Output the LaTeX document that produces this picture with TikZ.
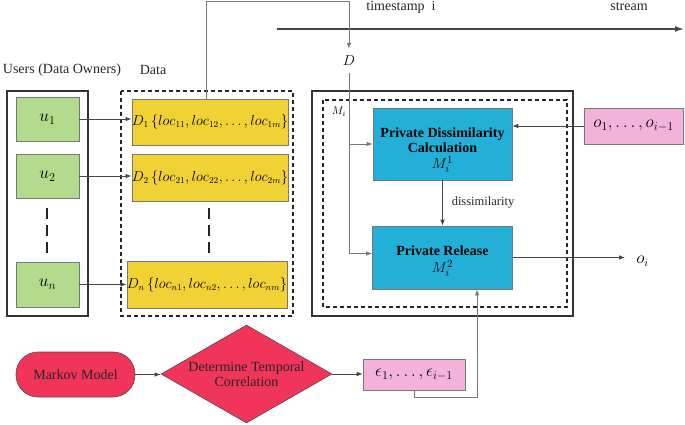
\documentclass[tikz,border=0pt]{standalone}
\usepackage{fontspec}
\setmainfont{Liberation Serif}
\usetikzlibrary{shapes.geometric,arrows.meta}
\definecolor{ugreen}{RGB}{178,220,140}
\definecolor{dyellow}{RGB}{240,210,52}
\definecolor{mblue}{RGB}{34,176,216}
\definecolor{opink}{RGB}{242,178,218}
\definecolor{mred}{RGB}{240,52,90}
\definecolor{lgray}{RGB}{120,120,120}
\definecolor{dgray}{RGB}{70,70,70}
\tikzset{
  ubox/.style={draw=lgray, fill=ugreen, line width=0.6pt, minimum width=63pt, minimum height=44pt, inner sep=0pt, font=\fontsize{17}{19}\selectfont},
  dbox/.style={draw=lgray, fill=dyellow, line width=0.6pt, minimum width=154pt, minimum height=46pt, inner sep=0pt, font=\fontsize{13.4}{15}\selectfont},
  mbox/.style={draw=lgray, fill=mblue, line width=0.6pt, inner sep=0pt, align=center, font=\fontsize{14}{15}\selectfont\bfseries},
  pbox/.style={draw=lgray, fill=opink, line width=0.6pt, inner sep=0pt, font=\fontsize{16.5}{18}\selectfont},
  lbl/.style={inner sep=0pt, font=\fontsize{14}{16}\selectfont, text=black!85},
  conn/.style={draw=dgray, line width=0.8pt, -{Latex[length=6pt,width=4.5pt]}},
  gconn/.style={draw=lgray, line width=0.9pt, -{Latex[length=6pt,width=4.5pt]}},
  frame/.style={draw=black!80, line width=1.4pt},
  dframe/.style={draw=black!85, line width=1.1pt, dash pattern=on 4pt off 3pt},
  vdots/.style={draw=black!85, line width=1.6pt, dash pattern=on 11pt off 6pt}
}
\begin{document}
\begin{tikzpicture}[x=1pt,y=-1pt]
\useasboundingbox (0,0) rectangle (685,425);
% frames
\draw[frame] (7,91) rectangle (88,316);
\draw[dframe] (121,91) rectangle (293,316);
\draw[frame] (312,91) rectangle (573,316);
\draw[dframe] (323,100) rectangle (567,307);
% labels
\node[lbl] (ulbl) at (62,70) {Users (Data Owners)};
\node[lbl] (dlbl) at (153,70) {Data};
\node[lbl] (ts) at (401,7) {timestamp\ \ i};
\node[lbl] (st) at (629,7) {stream};
% users
\node[ubox] (u1) at (47.5,119) {$u_1$};
\node[ubox] (u2) at (47.5,176) {$u_2$};
\node[ubox, minimum height=45pt] (un) at (47.5,284.5) {$u_n$};
\draw[vdots] (47,208) -- (47,253);
% data
\node[dbox] (D1) at (210,122) {$D_1\,\{loc_{11},loc_{12},\ldots,loc_{1m}\}$};
\node[dbox, minimum height=47pt] (D2) at (210,177.5) {$D_2\,\{loc_{21},loc_{22},\ldots,loc_{2m}\}$};
\node[dbox, minimum height=47pt] (Dn) at (207,284.5) {$D_n\,\{loc_{n1},loc_{n2},\ldots,loc_{nm}\}$};
\draw[vdots] (209,208) -- (209,253);
\draw[conn] (u1.east) -- (u1.east -| D1.west);
\draw[conn] (u2.east) -- (u2.east -| D2.west);
\draw[conn] (un.east) -- (un.east -| Dn.west);
% stream
\coordinate (s1) at (277,29);
\coordinate (s2) at (684,29);
\draw[draw=dgray, line width=1.6pt, -{Latex[length=9pt,width=6pt]}] (s1) -- (s2);
% D
\node[inner sep=0pt, font=\fontsize{15.5}{17}\selectfont] (D) at (349,61) {$D$};
\coordinate (top) at (349,1);
\draw[gconn] ([xshift=-4pt]D1.north) |- (top) -- ([yshift=7pt]D.north);
% M boxes
\node[inner sep=0pt, font=\fontsize{11}{12}\selectfont] (Mi) at (339,112) {$M_i$};
\node[mbox, minimum width=139pt, minimum height=72pt] (PDC) at (442.5,144) {\rule{0pt}{22pt}Private Dissimilarity\\Calculation\\[1.5pt] {\mdseries\fontsize{15}{16}\selectfont$M_i^1$}};
\node[mbox, minimum width=140pt, minimum height=63pt] (PR) at (442.5,257.5) {\rule{0pt}{17pt}Private Release\\[1.5pt] {\mdseries\fontsize{15}{16}\selectfont$M_i^2$}};
\node[pbox, minimum width=99pt, minimum height=36pt] (ob) at (633.5,126) {$o_1,\ldots,o_{i-1}$};
\draw[gconn] ([yshift=-7pt]D.south) |- ([yshift=4pt]PR.west);
\draw[gconn] (D.south |- PDC.west) -- (PDC.west);
\draw[conn] (ob.west) -- (ob.west -| PDC.east);
\draw[conn] (PDC.south) -- (PR.north);
\node[inner sep=0pt, font=\fontsize{12.5}{14}\selectfont, text=black!85] (dis) at (483,203) {dissimilarity};
\node[inner sep=0pt, font=\fontsize{16}{18}\selectfont] (oi) at (642.5,261) {$o_i$};
\draw[conn] (PR.east) -- ([xshift=-11pt]PR.east -| oi.west);
% bottom
\node[draw=black!70, fill=mred, line width=0.6pt, rounded corners=22pt, minimum width=119pt, minimum height=45pt, inner sep=0pt, font=\fontsize{14}{16}\selectfont, text=black!85] (mm) at (75.5,374.5) {Markov Model};
\node[draw=black!70, fill=mred, line width=0.6pt, diamond, minimum width=171pt, minimum height=98pt, inner sep=0pt] (dtc) at (246.5,374) {};
\node[align=center, inner sep=0pt, font=\fontsize{14}{15.5}\selectfont, text=black!85] (dtct) at (246.5,374) {Determine Temporal\\Correlation};
\node[pbox, minimum width=102pt, minimum height=31pt] (eps) at (414,374.5) {$\epsilon_1,\ldots,\epsilon_{i-1}$};
\draw[conn] (mm.east) -- (mm.east -| dtc.west);
\draw[conn] (dtc.east) -- (dtc.east -| eps.west);
\coordinate (c1) at (477,397);
\draw[gconn] (eps.south) |- (c1) -- (c1 |- PR.south);
\end{tikzpicture}
\end{document}
